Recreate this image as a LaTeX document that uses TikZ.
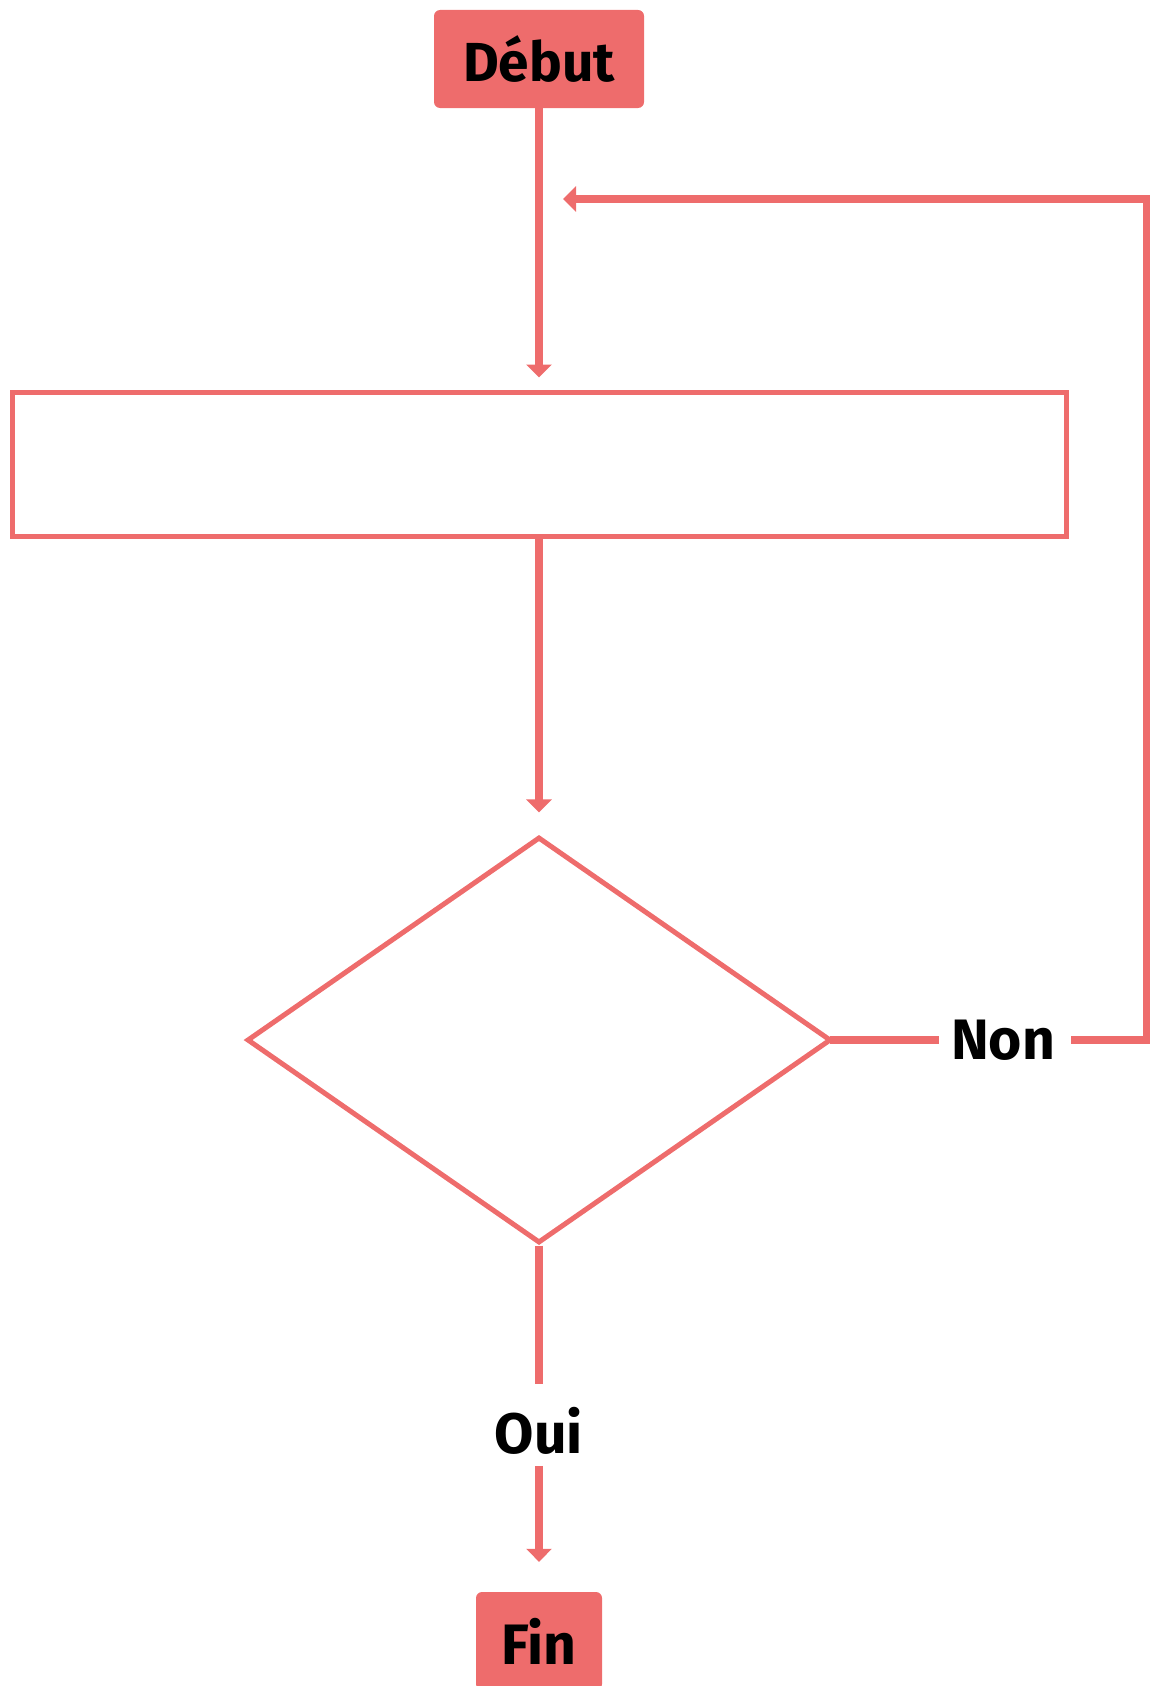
\documentclass[tikz,border=0pt]{standalone}
\usepackage{fontspec}
\setmainfont{Fira Sans}
\usepackage{tikz}
\usetikzlibrary{arrows.meta,shapes.geometric}
\definecolor{flow}{RGB}{238,108,108}
\tikzset{
  term/.style={fill=flow, rounded corners=6pt, minimum height=98pt, inner sep=0pt, font=\fontsize{55}{62}\selectfont\bfseries},
  lbl/.style={inner sep=0pt, font=\fontsize{57}{64}\selectfont\bfseries},
  line/.style={draw=flow, line width=7.5pt},
  outl/.style={draw=flow, line width=5pt}
}

\begin{document}
\begin{tikzpicture}[x=1pt, y=-1pt, >={Triangle[width=25pt,length=13pt]}, line join=miter]
%
\useasboundingbox (0,0) rectangle (1150,1686);
%
\node (debut) [term, minimum width=210pt] at (539,59) {Début};
\node (step1) [outl, rectangle, minimum width=1054pt, minimum height=144pt, inner sep=0pt] at (539,464) {};
\node (test) [outl, diamond, minimum width=584pt, minimum height=406pt, inner sep=0pt] at (539,1040) {};
\node (non) [lbl] at (1003,1040) {Non};
\node (oui) [lbl] at (539,1431) {Oui};
\node (fin) [term, minimum width=126pt, font=\fontsize{57}{64}\selectfont\bfseries] at (539,1641) {Fin};
%
\coordinate (loop) at (539,199);
\coordinate (back) at (1147,199);
%
\draw [line, ->, shorten >=12pt] (debut) -- (step1);
\draw [line, ->, shorten >=22pt] (step1) -- (test);
\draw [line, shorten <=-4pt, shorten >=12pt] (test.east) -- (non.west);
\draw [line, ->, shorten <=16pt, shorten >=24pt] (non.east) -| (back) -- (loop);
\draw [line, shorten >=23pt] (test.south) -- (oui.north);
\draw [line, ->, shorten <=11pt, shorten >=30pt] (oui.south) -- (fin.north);
\end{tikzpicture}
\end{document}
